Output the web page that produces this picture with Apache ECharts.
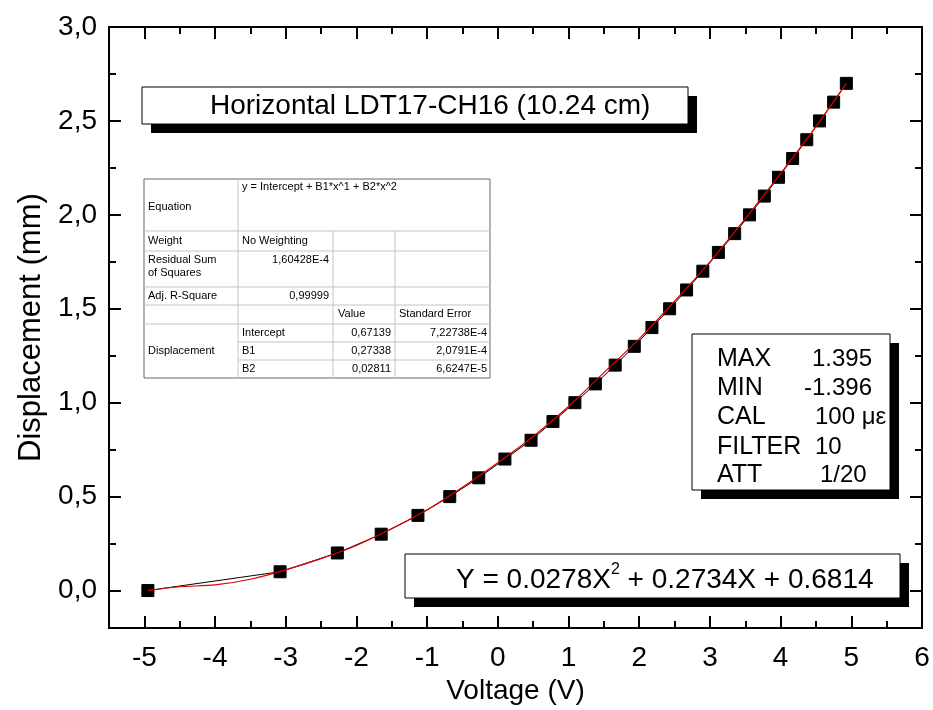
<!DOCTYPE html>
<html>
<head>
<meta charset="utf-8">
<script src="https://cdn.jsdelivr.net/npm/echarts@6/dist/echarts.min.js"></script>
<style>
html, body { margin: 0; padding: 0; background: #fff; }
#main { width: 933px; height: 710px; }
</style>
</head>
<body>
<div id="main"></div>
<script>
// measured points (Voltage V -> Displacement mm)
var voltage = [-4.95, -3.08, -2.27, -1.65, -1.13, -0.68, -0.27, 0.10, 0.47, 0.78, 1.09, 1.38, 1.66, 1.93,
    2.18, 2.43, 2.67, 2.90, 3.12, 3.35, 3.56, 3.77, 3.97, 4.17, 4.37, 4.55, 4.75, 4.93];
var displacement = [0.0, 0.1, 0.2, 0.3, 0.4, 0.5, 0.6, 0.7, 0.8, 0.9, 1.0, 1.1, 1.2, 1.3,
    1.4, 1.5, 1.6, 1.7, 1.8, 1.9, 2.0, 2.1, 2.2, 2.3, 2.4, 2.5, 2.6, 2.7];

// red fit curve
var fitX = [-4.95, -4.5, -4, -3.5, -3, -2.5, -2, -1.5, -1, -0.5, 0, 0.5, 1, 1.5, 2, 2.5, 3, 3.5, 4, 4.5, 4.93];
var fitY = [0.0, 0.02, 0.03, 0.06, 0.11, 0.17, 0.24, 0.33, 0.43, 0.55, 0.68, 0.82, 0.98, 1.16, 1.34, 1.54,
    1.75, 1.98, 2.22, 2.47, 2.70];

var xMajorTicks = [-5, -4, -3, -2, -1, 0, 1, 2, 3, 4, 5, 6];
var xMinorTicks = [-4.5, -3.5, -2.5, -1.5, -0.5, 0.5, 1.5, 2.5, 3.5, 4.5, 5.5];
var yMajorTicks = [0, 0.5, 1, 1.5, 2, 2.5, 3];
var yMinorTicks = [0.25, 0.75, 1.25, 1.75, 2.25, 2.75];

var titleText = 'Horizontal LDT17-CH16 (10.24 cm)';
var statNames = ['MAX', 'MIN', 'CAL', 'FILTER', 'ATT'];
var statValues = ['1.395', '-1.396', '100 με', '10', '1/20'];

var FONT = '"Liberation Sans", Arial, sans-serif';

function makeX(pos, ticks, len, withLabels) {
    return {
        type: 'value', position: pos, min: -5.5, max: 6,
        axisLine: { show: true, onZero: false, lineStyle: { color: '#000', width: 2 } },
        axisTick: { show: true, inside: true, length: len, customValues: ticks, lineStyle: { color: '#000', width: 2 } },
        axisLabel: withLabels ? {
            customValues: xMajorTicks, fontSize: 28, fontFamily: FONT, color: '#000', margin: 16,
            formatter: function (v) { return String(v); }
        } : { show: false },
        splitLine: { show: false }
    };
}

function makeY(pos, ticks, len, withLabels) {
    return {
        type: 'value', position: pos, min: -0.2, max: 3,
        axisLine: { show: true, onZero: false, lineStyle: { color: '#000', width: 2 } },
        axisTick: { show: true, inside: true, length: len, customValues: ticks, lineStyle: { color: '#000', width: 2 } },
        axisLabel: withLabels ? {
            customValues: yMajorTicks, fontSize: 28, fontFamily: FONT, color: '#000', margin: 12,
            formatter: function (v) { return v.toFixed(1).replace('.', ','); }
        } : { show: false },
        splitLine: { show: false }
    };
}

var xMain = makeX('bottom', xMajorTicks, 12, true);
xMain.name = 'Voltage (V)';
xMain.nameLocation = 'middle';
xMain.nameGap = 46;
xMain.nameTextStyle = { fontSize: 28, fontFamily: FONT, color: '#000' };

var yMain = makeY('left', yMajorTicks, 12, true);
yMain.name = 'Displacement (mm)';
yMain.nameLocation = 'middle';
yMain.nameGap = 60;
yMain.nameTextStyle = { fontSize: 31, fontFamily: FONT, color: '#000' };

// boxes with drop shadow
function shadowBox(x, y, w, h) {
    return [
        { type: 'rect', z: 100, shape: { x: x + 9, y: y + 9, width: w, height: h }, style: { fill: '#000' } },
        { type: 'rect', z: 101, shape: { x: x, y: y, width: w, height: h }, style: { fill: '#fff', stroke: '#000', lineWidth: 1 } }
    ];
}

function txt(x, y, s, size, align, va) {
    return {
        type: 'text', z: 102, x: x, y: y,
        style: { text: s, fontSize: size, fontFamily: FONT, fill: '#000', align: align || 'left', verticalAlign: va || 'middle' }
    };
}

function hline(x1, x2, y, c) {
    return { type: 'line', z: 102, shape: { x1: x1, y1: y, x2: x2, y2: y }, style: { stroke: c, lineWidth: 1 } };
}
function vline(x, y1, y2, c) {
    return { type: 'line', z: 102, shape: { x1: x, y1: y1, x2: x, y2: y2 }, style: { stroke: c, lineWidth: 1 } };
}

var graphics = [];
graphics = graphics.concat(shadowBox(142, 87, 546, 37));
graphics.push(txt(210, 106, titleText, 28));

graphics = graphics.concat(shadowBox(692, 334, 198, 156));
var statY = [359, 388, 417, 447, 475];
statNames.forEach(function (n, i) { graphics.push(txt(717, statY[i], n, 25)); });
graphics.push(txt(872, statY[0], statValues[0], 24, 'right'));
graphics.push(txt(872, statY[1], statValues[1], 24, 'right'));
graphics.push(txt(815, statY[2], statValues[2], 24));
graphics.push(txt(815, statY[3], statValues[3], 24));
graphics.push(txt(820, statY[4], statValues[4], 24));

graphics = graphics.concat(shadowBox(405, 554, 495, 44));
graphics.push({
    type: 'text', z: 102, x: 456, y: 578,
    style: {
        text: '{n|Y = 0.0278X}{s|2}{n| + 0.2734X + 0.6814}',
        fontFamily: FONT, fill: '#000', verticalAlign: 'middle',
        rich: {
            n: { fontSize: 28, fontFamily: FONT, lineHeight: 32, verticalAlign: 'bottom' },
            s: { fontSize: 16, fontFamily: FONT, lineHeight: 32, verticalAlign: 'top' }
        }
    }
});

// fit result table
var tx = [144, 238, 333, 395, 490];
var ty = [179, 231, 251, 287, 305, 324, 342, 360, 378];
var inner = '#c4c4c4', outer = '#666';
graphics.push({ type: 'rect', z: 101, shape: { x: tx[0], y: ty[0], width: tx[4] - tx[0], height: ty[8] - ty[0] }, style: { fill: '#fff', stroke: outer, lineWidth: 1 } });
[1, 2, 3, 4, 5].forEach(function (r) { graphics.push(hline(tx[0], tx[4], ty[r], inner)); });
[6, 7].forEach(function (r) { graphics.push(hline(tx[1], tx[4], ty[r], inner)); });
graphics.push(vline(tx[1], ty[0], ty[8], inner));
graphics.push(vline(tx[2], ty[1], ty[8], inner));
graphics.push(vline(tx[3], ty[1], ty[8], inner));

var T = 11;
graphics.push(txt(148, 207, 'Equation', T));
graphics.push(txt(242, 187, 'y = Intercept + B1*x^1 + B2*x^2', T));
graphics.push(txt(148, 241, 'Weight', T));
graphics.push(txt(242, 241, 'No Weighting', T));
graphics.push(txt(148, 260, 'Residual Sum', T));
graphics.push(txt(148, 273, 'of Squares', T));
graphics.push(txt(329, 260, '1,60428E-4', T, 'right'));
graphics.push(txt(148, 296, 'Adj. R-Square', T));
graphics.push(txt(329, 296, '0,99999', T, 'right'));
graphics.push(txt(338, 314, 'Value', T));
graphics.push(txt(399, 314, 'Standard Error', T));
graphics.push(txt(148, 351, 'Displacement', T));
var parNames = ['Intercept', 'B1', 'B2'];
var parValues = ['0,67139', '0,27338', '0,02811'];
var parErrors = ['7,22738E-4', '2,0791E-4', '6,6247E-5'];
var parY = [333, 351, 369];
parNames.forEach(function (n, i) {
    graphics.push(txt(242, parY[i], n, T));
    graphics.push(txt(391, parY[i], parValues[i], T, 'right'));
    graphics.push(txt(487, parY[i], parErrors[i], T, 'right'));
});

var chart = echarts.init(document.getElementById('main'));
chart.setOption({
    backgroundColor: '#fff',
    animation: false,
    grid: { left: 109, right: 11, top: 27, bottom: 80, containLabel: false },
    xAxis: [xMain, makeX('bottom', xMinorTicks, 7, false), makeX('top', xMajorTicks, 12, false), makeX('top', xMinorTicks, 7, false)],
    yAxis: [yMain, makeY('left', yMinorTicks, 7, false), makeY('right', yMajorTicks, 12, false), makeY('right', yMinorTicks, 7, false)],
    series: [
        {
            type: 'line', name: 'Displacement', xAxisIndex: 0, yAxisIndex: 0,
            data: voltage.map(function (v, i) { return [v, displacement[i]]; }),
            symbol: 'rect', symbolSize: 12, showSymbol: true,
            lineStyle: { color: '#000', width: 1 },
            itemStyle: { color: '#000', borderColor: '#000' },
            z: 3
        },
        {
            type: 'line', name: 'Fit', xAxisIndex: 0, yAxisIndex: 0,
            data: fitX.map(function (v, i) { return [v, fitY[i]]; }),
            smooth: 0.3, symbol: 'none',
            lineStyle: { color: '#e00000', width: 1.2 },
            z: 4
        }
    ],
    graphic: graphics
});
</script>
</body>
</html>
